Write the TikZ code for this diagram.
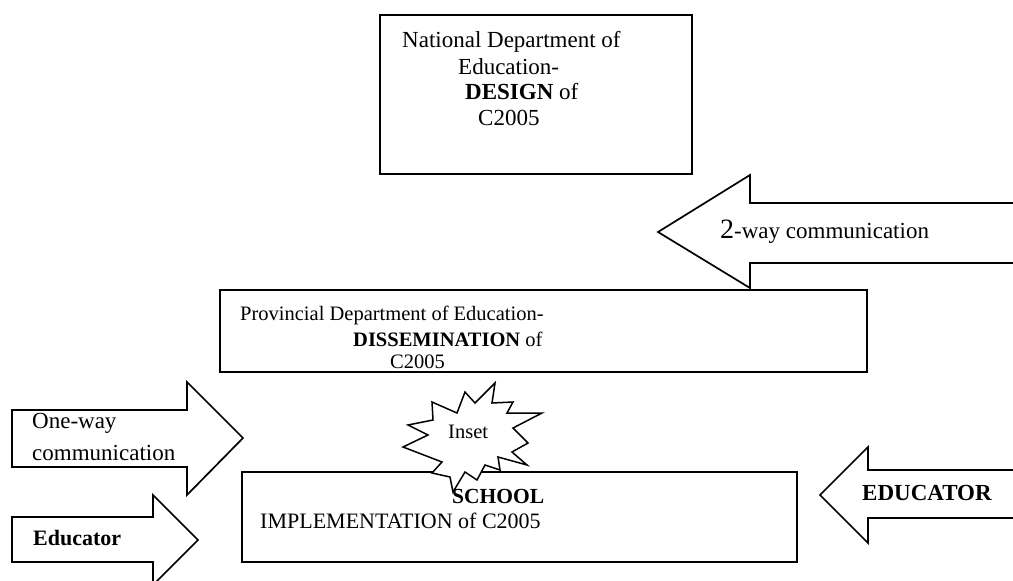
\documentclass[tikz,border=0pt]{standalone}
\usepackage{fontspec}
\setmainfont{Liberation Serif}
\begin{document}
\begin{tikzpicture}[x=1pt,y=-1pt,
  frame/.style={draw=black,line width=1.7pt,fill=white},
  blockarrow/.style={draw=black,line width=1.7pt,fill=white,line join=miter},
  label/.style={anchor=base west,inner sep=0pt},
  burst/.style={draw=black,line width=1.5pt,fill=white,line join=miter}]
\useasboundingbox (0,0) rectangle (1013,581);
\clip (0,0) rectangle (1013,581);

% national level box
\draw[frame] (380,15) rectangle (692,174);
\begin{scope}[every node/.append style={font=\fontsize{23}{26}\selectfont}]
  \node[label] (nat1) at (402,47) {National Department of};
  \node[label] (nat2) at (458,74) {Education-};
  \node[label] (nat3) at (465,99) {\textbf{DESIGN} of};
  \node[label] (nat4) at (478,125) {C2005};
\end{scope}

% provincial level box
\draw[frame] (220,290) rectangle (867,372);
\begin{scope}[every node/.append style={font=\fontsize{20.5}{24}\selectfont}]
  \node[label] (prov1) at (240,320) {Provincial Department of Education-};
  \node[label] (prov2) at (353,346) {\textbf{DISSEMINATION} of};
  \node[label] (prov3) at (390,368) {C2005};
\end{scope}

% school level box
\draw[frame] (242,472) rectangle (797,562);
\node[label,font=\fontsize{21.5}{24}\selectfont\bfseries] (sch1) at (452,503) {SCHOOL};
\node[label,font=\fontsize{22}{24}\selectfont] (sch2) at (260,528) {IMPLEMENTATION of C2005};

% two-way communication arrow
\draw[blockarrow] (1030,203) -- (750,203) -- (750,175) -- (658,232)
  -- (750,288) -- (750,263) -- (1030,263) -- cycle;
\node[label,font=\fontsize{23}{26}\selectfont] (two) at (720,238)
  {{\fontsize{28}{30}\selectfont 2}-way communication};

% one-way communication arrow
\draw[blockarrow] (12,410) -- (187,410) -- (187,382) -- (243,438)
  -- (187,495) -- (187,467) -- (12,467) -- cycle;
\begin{scope}[every node/.append style={font=\fontsize{23}{26}\selectfont}]
  \node[label] (one1) at (32,428) {One-way};
  \node[label] (one2) at (32,460) {communication};
\end{scope}

% educator arrow (left)
\draw[blockarrow] (12,517) -- (153,517) -- (153,495) -- (198,540)
  -- (153,585) -- (153,562) -- (12,562) -- cycle;
\node[label,font=\fontsize{22}{24}\selectfont\bfseries] (edl) at (33,545) {Educator};

% educator arrow (right)
\draw[blockarrow] (1030,470) -- (868,470) -- (868,447) -- (820,495)
  -- (868,543) -- (868,518) -- (1030,518) -- cycle;
\node[label,font=\fontsize{23}{26}\selectfont\bfseries] (edr) at (862,500) {EDUCATOR};

% inset starburst
\draw[burst] (432,402) -- (457,413) -- (465,392) -- (475,403) -- (495,383)
  -- (492,403) -- (513,402) -- (507,413) -- (542,413) -- (513,428)
  -- (528,443) -- (512,452) -- (527,465) -- (498,457) -- (500,470)
  -- (485,465) -- (477,480) -- (465,472) -- (453,492) -- (450,477)
  -- (432,473) -- (442,462) -- (403,447) -- (428,435) -- (408,425)
  -- (433,420) -- cycle;
\node[label,font=\fontsize{20.5}{22}\selectfont] (inset) at (448,438) {Inset};
\end{tikzpicture}
\end{document}
